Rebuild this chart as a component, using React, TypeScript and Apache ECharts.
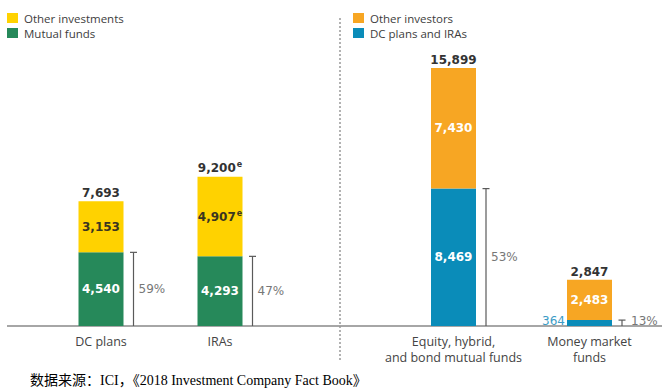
import React, { useEffect, useRef } from "react";
import * as echarts from "echarts";

const leftCategories = ["DC plans", "IRAs"];
const mutualFunds = [4540, 4293];
const otherInvestments = [3153, 4907];
const leftTotals = [7693, 9200];
const leftShares = ["59%", "47%"];
const leftEstimated = [false, true];

const rightCategories = ["Equity, hybrid,\nand bond mutual funds", "Money market\nfunds"];
const dcPlansAndIras = [8469, 364];
const otherInvestors = [7430, 2483];
const rightTotals = [15899, 2847];
const rightShares = ["53%", "13%"];

const sourceText = "数据来源：ICI，《2018 Investment Company Fact Book》";

const GREEN = "#26895A";
const YELLOW = "#FFD200";
const ORANGE = "#F7A623";
const TEAL = "#0A8CB9";
const NUM_FONT = "DejaVu Sans";
const TXT_FONT = "Open Sans";

const fmt = (v: number) => v.toLocaleString("en-US");

function bracketSeries(
  gridIdx: number,
  bottoms: number[],
  totals: number[],
  shares: string[],
  estimated: boolean[]
) {
  return {
    type: "custom",
    xAxisIndex: gridIdx,
    yAxisIndex: gridIdx,
    silent: true,
    data: bottoms.map((b, i) => [i, b, totals[i]]),
    renderItem: (params: any, api: any) => {
      const i = params.dataIndex;
      const base = api.coord([api.value(0), 0]);
      const top = api.coord([api.value(0), api.value(1)]);
      const tot = api.coord([api.value(0), api.value(2)]);
      const bx = base[0] + 22.5 + 10;
      const midY = (base[1] + top[1]) / 2;
      const small = base[1] - top[1] < 12;
      const totalText = estimated[i]
        ? `{a|${fmt(totals[i])}}{s|e}`
        : `{a|${fmt(totals[i])}}`;
      return {
        type: "group",
        children: [
          {
            type: "line",
            shape: { x1: bx, y1: base[1], x2: bx, y2: top[1] },
            style: { stroke: "#5a5a5a", lineWidth: 1.2 },
          },
          {
            type: "line",
            shape: { x1: bx - 3.5, y1: top[1], x2: bx + 3.5, y2: top[1] },
            style: { stroke: "#5a5a5a", lineWidth: 1.2 },
          },
          {
            type: "text",
            x: bx + (small ? 9 : 5),
            y: small ? midY - 2 : midY,
            style: {
              text: shares[i],
              fill: "#777",
              font: `12px "${NUM_FONT}"`,
              textAlign: "left",
              textVerticalAlign: "middle",
            },
          },
          {
            type: "text",
            x: tot[0],
            y: tot[1] - 2,
            style: {
              text: totalText,
              textAlign: "center",
              textVerticalAlign: "bottom",
              rich: {
                a: { fontFamily: NUM_FONT, fontWeight: "bold", fontSize: 12, fill: "#333", color: "#333" },
                s: { fontFamily: NUM_FONT, fontWeight: "bold", fontSize: 8, fill: "#333", color: "#333", padding: [0, 0, 6, 1] },
              },
            },
          },
        ],
      };
    },
  };
}

export default function App() {
  const ref = useRef<HTMLDivElement>(null);
  useEffect(() => {
    document.body.style.margin = "0";
    const chart = echarts.init(ref.current!, null, { renderer: "svg" });
    const yAxisBase = {
      type: "value",
      min: 0,
      max: 18000,
      show: false,
      splitLine: { show: false },
    };
    const xAxisBase = {
      type: "category",
      axisLine: { show: false },
      axisTick: { show: false },
      axisLabel: {
        margin: 7,
        color: "#444",
        fontFamily: TXT_FONT,
        fontSize: 12.5,
        lineHeight: 16,
        interval: 0,
      },
    };
    const insideLabel = (color: string) => ({
      show: true,
      position: "inside",
      color,
      fontFamily: NUM_FONT,
      fontWeight: "bold",
      fontSize: 12,
    });
    const legendBase = {
      orient: "vertical",
      top: 12,
      itemWidth: 11,
      itemHeight: 10,
      itemGap: 3,
      padding: 0,
      icon: "rect",
      selectedMode: false,
      textStyle: { color: "#3d3d3d", fontFamily: TXT_FONT, fontSize: 11.5, lineHeight: 11, padding: [0, 0, 0, 1] },
    };
    chart.setOption({
      animation: false,
      grid: [
        { left: 41.5, width: 238, top: 34, bottom: 66 },
        { left: 385.5, width: 272, top: 34, bottom: 66 },
      ],
      xAxis: [
        { ...xAxisBase, gridIndex: 0, data: leftCategories },
        { ...xAxisBase, gridIndex: 1, data: rightCategories },
      ],
      yAxis: [
        { ...yAxisBase, gridIndex: 0 },
        { ...yAxisBase, gridIndex: 1 },
      ],
      legend: [
        { ...legendBase, left: 7, data: ["Other investments", "Mutual funds"] },
        { ...legendBase, left: 353, data: ["Other investors", "DC plans and IRAs"] },
      ],
      series: [
        {
          name: "Mutual funds",
          type: "bar",
          stack: "L",
          xAxisIndex: 0,
          yAxisIndex: 0,
          barWidth: 45,
          itemStyle: { color: GREEN },
          label: { ...insideLabel("#fff"), formatter: (p: any) => fmt(p.value) },
          data: mutualFunds,
        },
        {
          name: "Other investments",
          type: "bar",
          stack: "L",
          xAxisIndex: 0,
          yAxisIndex: 0,
          barWidth: 45,
          itemStyle: { color: YELLOW },
          label: {
            ...insideLabel("#3a3520"),
            formatter: (p: any) =>
              leftEstimated[p.dataIndex] ? `{a|${fmt(p.value)}}{s|e}` : `{a|${fmt(p.value)}}`,
            rich: {
              a: { fontFamily: NUM_FONT, fontWeight: "bold", fontSize: 12, color: "#3a3520" },
              s: { fontFamily: NUM_FONT, fontWeight: "bold", fontSize: 8, color: "#3a3520", padding: [0, 0, 6, 1] },
            },
          },
          data: otherInvestments,
        },
        {
          name: "DC plans and IRAs",
          type: "bar",
          stack: "R",
          xAxisIndex: 1,
          yAxisIndex: 1,
          barWidth: 45,
          itemStyle: { color: TEAL },
          label: { ...insideLabel("#fff"), formatter: (p: any) => fmt(p.value) },
          data: dcPlansAndIras.map((v, i) =>
            i === 1
              ? {
                  value: v,
                  label: {
                    position: "left",
                    distance: 2,
                    color: "#3C9CC6",
                    fontWeight: "normal",
                    offset: [0, -2],
                  },
                }
              : v
          ),
        },
        {
          name: "Other investors",
          type: "bar",
          stack: "R",
          xAxisIndex: 1,
          yAxisIndex: 1,
          barWidth: 45,
          itemStyle: { color: ORANGE },
          label: { ...insideLabel("#fff"), formatter: (p: any) => fmt(p.value) },
          data: otherInvestors,
        },
        bracketSeries(0, mutualFunds, leftTotals, leftShares, leftEstimated),
        bracketSeries(1, dcPlansAndIras, rightTotals, rightShares, [false, false]),
      ],
      graphic: [
        {
          type: "line",
          silent: true,
          shape: { x1: 7, y1: 326, x2: 662, y2: 326 },
          style: { stroke: "#888", lineWidth: 1.5 },
        },
        {
          type: "line",
          silent: true,
          shape: { x1: 340, y1: 18, x2: 340, y2: 362 },
          style: { stroke: "#999", lineWidth: 1.5, lineDash: [2, 2] },
        },
        {
          type: "text",
          left: 30,
          top: 373,
          style: {
            text: sourceText,
            fill: "#000",
            font: '14px "Liberation Serif", "Noto Sans CJK SC", serif',
          },
        },
      ],
    });
    return () => chart.dispose();
  }, []);
  return <div ref={ref} style={{ width: 669, height: 392 }} />;
}
